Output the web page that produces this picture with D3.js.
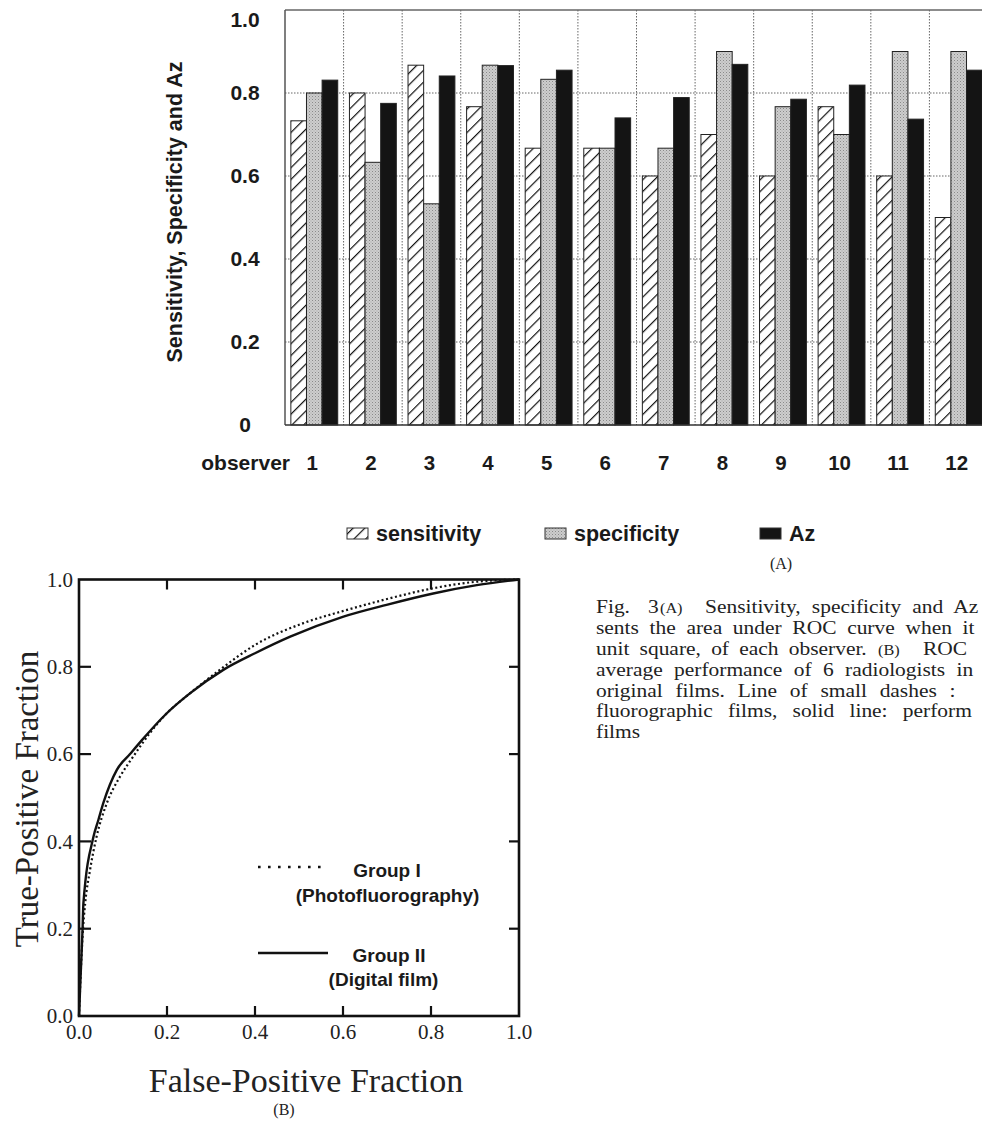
<!DOCTYPE html>
<html><head><meta charset="utf-8">
<script src="https://cdn.jsdelivr.net/npm/d3@7"></script>
<style>
html,body{margin:0;padding:0;background:#fff;overflow:hidden;}
svg{display:block;}
</style></head>
<body>
<svg id="chart" width="982" height="1121"></svg>
<script>
// ---------- Data (A) ----------
const observers = ["1","2","3","4","5","6","7","8","9","10","11","12"];
const seriesNames = ["sensitivity","specificity","Az"];
const sensitivity = [0.733,0.800,0.867,0.767,0.667,0.667,0.600,0.700,0.600,0.767,0.600,0.500];
const specificity = [0.800,0.633,0.533,0.867,0.833,0.667,0.667,0.900,0.767,0.700,0.900,0.900];
const az          = [0.831,0.775,0.841,0.866,0.855,0.740,0.789,0.869,0.785,0.819,0.737,0.855];
const barTicks = [0,0.2,0.4,0.6,0.8,1.0];
const barTickLabels = ["0","0.2","0.4","0.6","0.8","1.0"];

// ---------- Data (B) ----------
const groupIFpf  = [0,0.004,0.008,0.014,0.025,0.040,0.063,0.093,0.123,0.161,0.199,0.252,0.320,0.400,0.510,0.601,0.707,0.805,0.904,1];
const groupITpf  = [0,0.100,0.182,0.258,0.334,0.411,0.487,0.548,0.594,0.648,0.693,0.739,0.793,0.850,0.900,0.928,0.957,0.980,0.995,1];
const groupIIFpf = [0,0.004,0.008,0.010,0.033,0.044,0.055,0.086,0.116,0.143,0.199,0.252,0.328,0.400,0.480,0.601,0.699,0.805,0.904,1];
const groupIITpf = [0,0.100,0.197,0.258,0.411,0.449,0.487,0.564,0.600,0.632,0.693,0.739,0.793,0.831,0.869,0.915,0.942,0.968,0.987,1];
const rocTicks = [0,0.2,0.4,0.6,0.8,1.0];
const rocTickLabels = ["0.0","0.2","0.4","0.6","0.8","1.0"];

const captionLines = [
  [["Fig.",596,0],["3",648,0],["(A)",660,1],["Sensitivity, specificity and Az",705,0]],
  [["sents the area under ROC curve when it",596,0]],
  [["unit square, of each observer.",596,0],["(B)",878,1],["ROC",923,0]],
  [["average performance of 6 radiologists in",596,0]],
  [["original films. Line of small dashes :",596,0]],
  [["fluorographic films, solid line: perform",596,0]],
  [["films",596,0]]
];
const captionWordSpacing = [5,4.6,4.2,5.2,6.4,8.5,0];

const svg = d3.select("#chart");
const defs = svg.append("defs");
const hatch = defs.append("pattern").attr("id","hatch").attr("patternUnits","userSpaceOnUse")
  .attr("width",8.3).attr("height",8.3).attr("patternTransform","rotate(45)");
hatch.append("rect").attr("width",8.3).attr("height",8.3).attr("fill","#fff");
hatch.append("line").attr("x1",0).attr("y1",0).attr("x2",0).attr("y2",8.3).attr("stroke","#111").attr("stroke-width",2.4);
const stip = defs.append("pattern").attr("id","stip").attr("patternUnits","userSpaceOnUse").attr("width",3).attr("height",3);
stip.append("rect").attr("width",3).attr("height",3).attr("fill","#cdcdcd");
stip.append("rect").attr("width",1).attr("height",1).attr("fill","#8a8a8a");
stip.append("rect").attr("x",1.5).attr("y",1.5).attr("width",1).attr("height",1).attr("fill","#a8a8a8");

const fills = {"sensitivity":"url(#hatch)","specificity":"url(#stip)","Az":"#141414"};
const sans = "'Liberation Sans', Arial, Helvetica, sans-serif";
const serif = "'Liberation Serif', 'Times New Roman', serif";

// ---------- Chart A ----------
const A = {left:285, right:988, top:10, bottom:425};
const x0 = d3.scaleBand().domain(observers).range([A.left, A.right]).paddingInner(0.2).paddingOuter(0.1);
const x1 = d3.scaleBand().domain(seriesNames).range([0, x0.bandwidth()]);
const yA = d3.scaleLinear().domain([0,1]).range([A.bottom, A.top]);
const gA = svg.append("g");

gA.selectAll(".hg").data(barTicks.filter(t=>t>0 && t<1)).join("line")
  .attr("x1",A.left).attr("x2",A.right).attr("y1",d=>yA(d)).attr("y2",d=>yA(d))
  .attr("stroke","#666").attr("stroke-width",1).attr("stroke-dasharray","1.5,1.5");
const step = x0.step();
gA.selectAll(".vg").data(observers.slice(1).concat(["end"])).join("line")
  .attr("x1",(d,i)=>A.left+(i+1)*step).attr("x2",(d,i)=>A.left+(i+1)*step)
  .attr("y1",A.top).attr("y2",A.bottom)
  .attr("stroke","#666").attr("stroke-width",1).attr("stroke-dasharray","1.5,1.5");

const values = {"sensitivity":sensitivity,"specificity":specificity,"Az":az};
observers.forEach((o,i)=>{
  seriesNames.forEach(s=>{
    const v = values[s][i];
    gA.append("rect")
      .attr("x", x0(o)+x1(s)).attr("width", x1.bandwidth())
      .attr("y", yA(v)).attr("height", yA(0)-yA(v))
      .attr("fill", fills[s]).attr("stroke","#222").attr("stroke-width",1);
  });
});
gA.append("line").attr("x1",A.left).attr("x2",A.right).attr("y1",A.top).attr("y2",A.top).attr("stroke","#666").attr("stroke-width",1.5);
gA.append("line").attr("x1",A.left).attr("x2",A.left).attr("y1",A.top).attr("y2",A.bottom).attr("stroke","#555").attr("stroke-width",1.5);
gA.append("line").attr("x1",A.left).attr("x2",A.right).attr("y1",A.bottom).attr("y2",A.bottom).attr("stroke","#333").attr("stroke-width",1.5);

gA.selectAll(".yl").data(barTicks).join("text")
  .attr("x",245).attr("y",d=>Math.max(yA(d),20)).attr("dy","0.35em")
  .attr("text-anchor","middle").attr("font-family",sans).attr("font-weight","bold").attr("font-size",21)
  .attr("fill","#1a1a1a").text((d,i)=>barTickLabels[i]);
gA.append("text").attr("transform","translate(182,212) rotate(-90)")
  .attr("text-anchor","middle").attr("font-family",sans).attr("font-weight","bold").attr("font-size",21.5)
  .attr("fill","#1a1a1a").text("Sensitivity, Specificity and Az");
gA.selectAll(".xl").data(observers).join("text")
  .attr("x",d=>x0(d)+x0.bandwidth()/2-2).attr("y",463).attr("dy","0.35em")
  .attr("text-anchor","middle").attr("font-family",sans).attr("font-weight","bold").attr("font-size",20.5)
  .attr("fill","#1a1a1a").text(d=>d);
gA.append("text").attr("x",290).attr("y",463).attr("dy","0.35em")
  .attr("text-anchor","end").attr("font-family",sans).attr("font-weight","bold").attr("font-size",21)
  .attr("fill","#1a1a1a").text("observer");

const legX = {"sensitivity":347,"specificity":545,"Az":760};
seriesNames.forEach(s=>{
  gA.append("rect").attr("x",legX[s]).attr("y",528).attr("width",21).attr("height",11)
    .attr("fill",fills[s]).attr("stroke","#333").attr("stroke-width",1);
  gA.append("text").attr("x",legX[s]+29).attr("y",533).attr("dy","0.35em")
    .attr("font-family",sans).attr("font-weight","bold").attr("font-size",21.5).attr("fill","#1a1a1a").text(s);
});
svg.append("text").attr("x",781).attr("y",563).attr("dy","0.35em").attr("text-anchor","middle")
  .attr("font-family",serif).attr("font-size",16).attr("fill","#222").text("(A)");

// ---------- Chart B ----------
const B = {left:79, right:519, top:579.5, bottom:1016};
const xB = d3.scaleLinear().domain([0,1]).range([B.left,B.right]);
const yB = d3.scaleLinear().domain([0,1]).range([B.bottom,B.top]);
const gB = svg.append("g");
const line = d3.line().x(d=>xB(d[0])).y(d=>yB(d[1])).curve(d3.curveMonotoneX);
gB.append("path").datum(groupIFpf.map((f,i)=>[f,groupITpf[i]])).attr("d",line)
  .attr("fill","none").attr("stroke","#111").attr("stroke-width",2.2).attr("stroke-dasharray","2,2.6");
gB.append("path").datum(groupIIFpf.map((f,i)=>[f,groupIITpf[i]])).attr("d",line)
  .attr("fill","none").attr("stroke","#111").attr("stroke-width",2.4);
gB.append("rect").attr("x",B.left).attr("y",B.top).attr("width",B.right-B.left).attr("height",B.bottom-B.top)
  .attr("fill","none").attr("stroke","#111").attr("stroke-width",2.6);
const inner = rocTicks.filter(t=>t>0&&t<1);
const tl = 10;
inner.forEach(t=>{
  gB.append("line").attr("x1",xB(t)).attr("x2",xB(t)).attr("y1",B.bottom).attr("y2",B.bottom-tl).attr("stroke","#111").attr("stroke-width",2.2);
  gB.append("line").attr("x1",xB(t)).attr("x2",xB(t)).attr("y1",B.top).attr("y2",B.top+tl).attr("stroke","#111").attr("stroke-width",2.2);
  gB.append("line").attr("y1",yB(t)).attr("y2",yB(t)).attr("x1",B.left).attr("x2",B.left+tl+2).attr("stroke","#111").attr("stroke-width",2.2);
  gB.append("line").attr("y1",yB(t)).attr("y2",yB(t)).attr("x1",B.right).attr("x2",B.right-tl).attr("stroke","#111").attr("stroke-width",2.2);
});
gB.selectAll(".byl").data(rocTicks).join("text")
  .attr("x",B.left-6).attr("y",d=>yB(d)).attr("dy","0.35em").attr("text-anchor","end")
  .attr("font-family",serif).attr("font-size",21).attr("fill","#222").text((d,i)=>rocTickLabels[i]);
gB.selectAll(".bxl").data(rocTicks).join("text")
  .attr("x",d=>xB(d)).attr("y",1032).attr("dy","0.35em").attr("text-anchor","middle")
  .attr("font-family",serif).attr("font-size",21).attr("fill","#222").text((d,i)=>rocTickLabels[i]);
gB.append("text").attr("x",306).attr("y",1080).attr("dy","0.35em").attr("text-anchor","middle")
  .attr("font-family",serif).attr("font-size",34).attr("fill","#222").text("False-Positive Fraction");
gB.append("text").attr("transform","translate(26,799) rotate(-90)").attr("dy","0.35em").attr("text-anchor","middle")
  .attr("font-family",serif).attr("font-size",33).attr("fill","#222").text("True-Positive Fraction");
gB.append("text").attr("x",284).attr("y",1109).attr("dy","0.35em").attr("text-anchor","middle")
  .attr("font-family",serif).attr("font-size",16).attr("fill","#222").text("(B)");
gB.append("line").attr("x1",258).attr("x2",328).attr("y1",867).attr("y2",867)
  .attr("stroke","#111").attr("stroke-width",2.6).attr("stroke-dasharray","2.6,7.4");
gB.append("line").attr("x1",258).attr("x2",328).attr("y1",953).attr("y2",953)
  .attr("stroke","#111").attr("stroke-width",2.4);
const legB = [["Group I",387,870],["(Photofluorography)",387.5,895],["Group II",389,955],["(Digital film)",383.5,979]];
legB.forEach(d=>{
  gB.append("text").attr("x",d[1]).attr("y",d[2]).attr("dy","0.35em").attr("text-anchor","middle")
    .attr("font-family",sans).attr("font-weight","bold").attr("font-size",19).attr("fill","#1a1a1a").text(d[0]);
});

// ---------- Caption ----------
const sx = 1.16;
const cap = svg.append("g");
captionLines.forEach((parts,i)=>{
  const t = cap.append("text").attr("transform",`translate(596,${607+i*20.8}) scale(${sx},1)`)
    .attr("dy","0.35em").attr("font-family",serif).attr("font-size",18.5).attr("fill","#222")
    .attr("word-spacing",captionWordSpacing[i]);
  parts.forEach(p=>{
    t.append("tspan").attr("x",(p[1]-596)/sx).attr("font-size", p[2]?14:18.5).text(p[0]);
  });
});
</script>
</body></html>
